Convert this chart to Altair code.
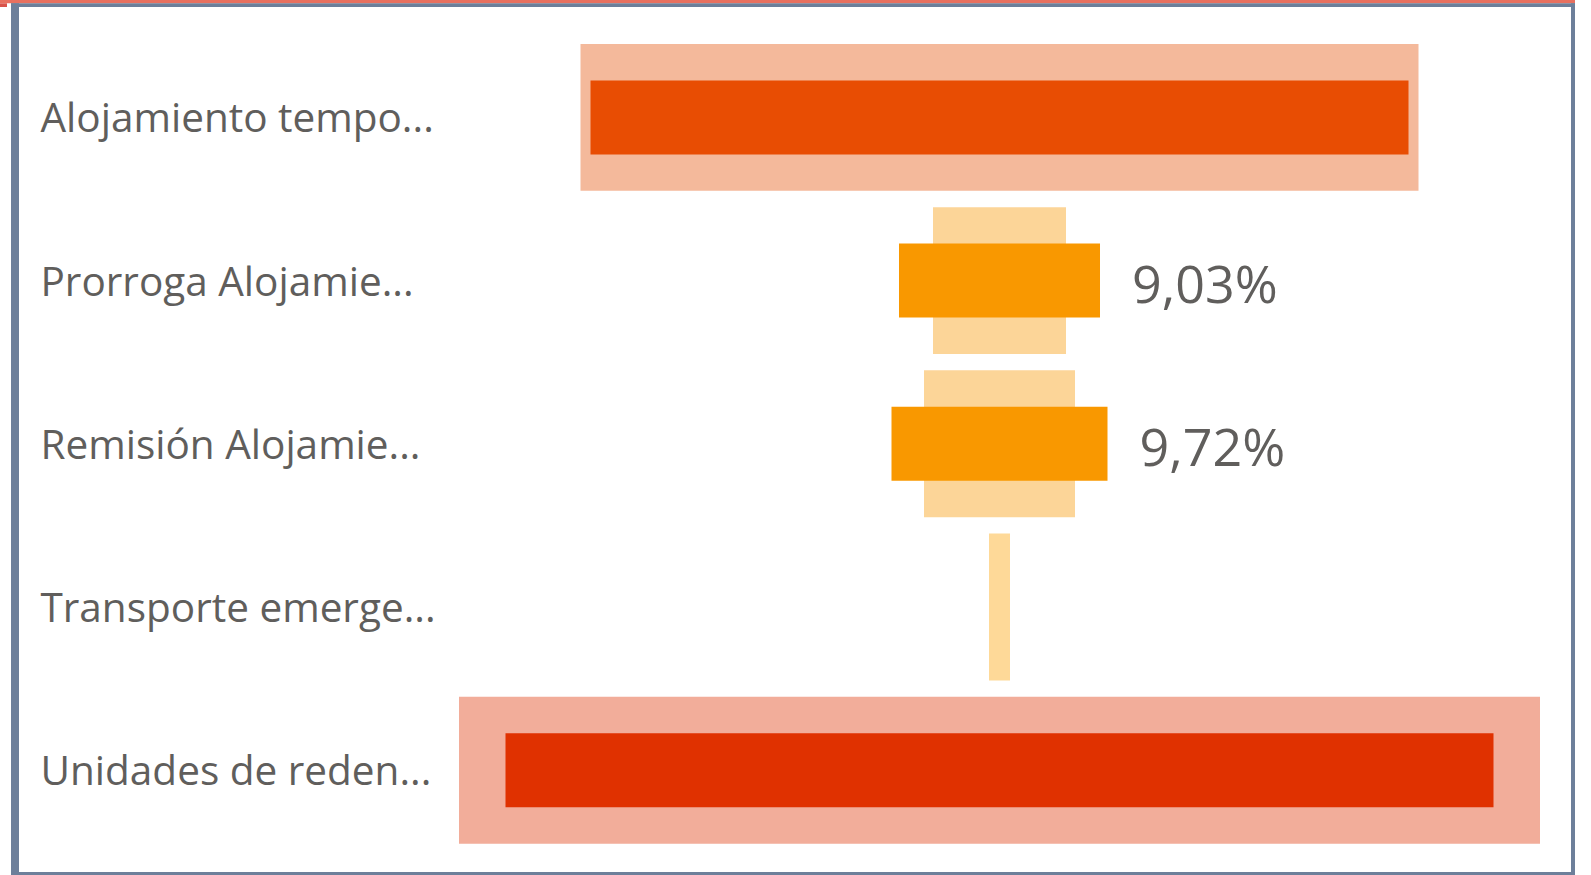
import altair as alt
import pandas as pd

categories = ["Alojamiento tempo...", "Prorroga Alojamie...", "Remisión Alojamie...",
              "Transporte emerge...", "Unidades de reden..."]
outer_values = [838, 133, 151, 21, 1081]
inner_values = [818, 201, 216, 0, 988]
value_labels = ["", "9,03%", "9,72%", "", ""]
outer_colors = ["#F4B99B", "#FCD598", "#FCD598", "#FED998", "#F2AD9A"]
inner_colors = ["#E84D03", "#F99800", "#F99800", "#F99800", "#E03100"]

df = pd.DataFrame({
    "cat": categories,
    "outer": outer_values,
    "inner": inner_values,
    "label": value_labels,
    "ocol": outer_colors,
    "icol": inner_colors,
})

FONT = "Open Sans"
TXT = "#605E5C"

y_enc = alt.Y("cat:N", sort=categories,
              scale=alt.Scale(paddingInner=0.1, paddingOuter=0.05),
              axis=alt.Axis(title=None, ticks=False, domain=False, grid=False,
                            labelAlign="left", labelPadding=419, labelFontSize=40.5,
                            labelOffset=3,
                            labelFont=FONT, labelColor=TXT, labelLimit=600))
x_scale = alt.Scale(domain=[-540.5, 540.5])

base = alt.Chart(df).transform_calculate(
    o1="-datum.outer/2", o2="datum.outer/2",
    i1="-datum.inner/2", i2="datum.inner/2",
)

outer = base.mark_bar().encode(
    y=y_enc,
    x=alt.X("o1:Q", scale=x_scale, axis=None),
    x2="o2:Q",
    color=alt.Color("ocol:N", scale=None),
)
inner = base.mark_bar(size=74).encode(
    y=alt.Y("cat:N", sort=categories),
    x=alt.X("i1:Q", scale=x_scale, axis=None),
    x2="i2:Q",
    color=alt.Color("icol:N", scale=None),
)
labels = base.mark_text(align="left", baseline="middle", dx=32, dy=6, font=FONT,
                        fontSize=52, color=TXT).encode(
    y=alt.Y("cat:N", sort=categories),
    x=alt.X("i2:Q", scale=x_scale, axis=None),
    text="label:N",
)

# decorative frame (pixel positions relative to plot origin at 459, 35.8)
ox, oy = 459, 35.8
frame = pd.DataFrame({
    "x1": [0 - ox, 11 - ox, 11 - ox, 1571 - ox, 11 - ox, 0 - ox],
    "x2": [1575 - ox, 1575 - ox, 19 - ox, 1575 - ox, 1575 - ox, 7 - ox],
    "y1": [0 - oy, 3.3 - oy, 3.3 - oy, 3.3 - oy, 872 - oy, 3.3 - oy],
    "y2": [3.3 - oy, 7 - oy, 875 - oy, 875 - oy, 875 - oy, 7 - oy],
    "c": ["#E8705F", "#6D7F9A", "#6D7F9A", "#6D7F9A", "#6D7F9A", "#D9534A"],
})
frame_layers = []
for i in range(len(frame)):
    r = frame.iloc[i]
    frame_layers.append(
        alt.Chart(pd.DataFrame({"k": [0]})).mark_rect(color=r["c"]).encode(
            x=alt.value(float(r["x1"])), x2=alt.value(float(r["x2"])),
            y=alt.value(float(r["y1"])), y2=alt.value(float(r["y2"])),
        )
    )

chart = alt.layer(outer, inner, labels, *frame_layers).properties(
    width=1081, height=816,
    autosize=alt.AutoSizeParams(type="none"),
    padding={"left": 459, "top": 35.8, "right": 51, "bottom": 23.2},
    background="white",
).configure_view(stroke=None)

chart.save("out.html", embed_options={"renderer": "svg", "actions": False})
